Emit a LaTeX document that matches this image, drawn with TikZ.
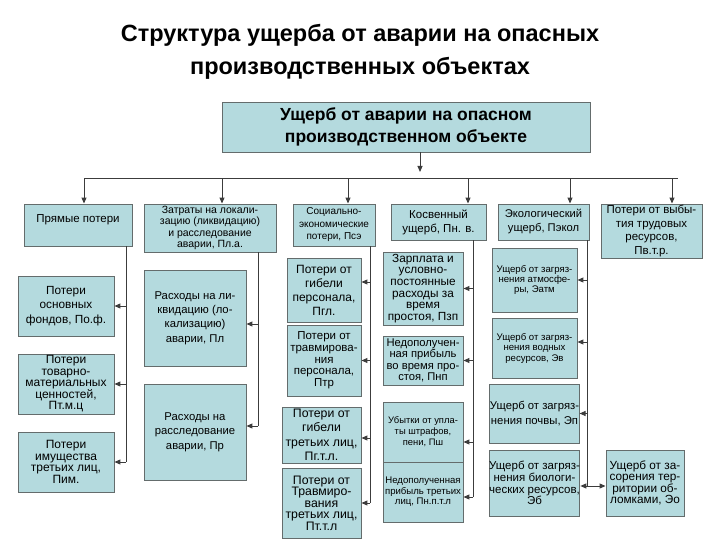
\documentclass[tikz,border=0pt]{standalone}
\usepackage{fontspec}
\setmainfont{Liberation Sans}
\usetikzlibrary{arrows.meta}
\definecolor{boxfill}{RGB}{180,218,222}
\definecolor{boxline}{RGB}{100,108,108}
\definecolor{lin}{RGB}{60,60,60}
\newcommand\fs[2]{\fontsize{#1}{#2}\selectfont}
\begin{document}
\begin{tikzpicture}[x=1pt,y=-1pt,
 box/.style={draw=boxline, fill=boxfill, line width=0.9pt, inner sep=0pt, align=center, font=\fs{11}{12}},
 sz/.style 2 args={minimum width=#1pt, minimum height=#2pt},
 arr/.style={draw=lin, line width=1pt, -{Triangle[length=6pt,width=5pt]}},
 ln/.style={draw=lin, line width=1pt}]
\useasboundingbox (0,0) rectangle (720,540);

\node[align=center, font=\fs{23.5}{33}\bfseries] (title) at (360,52) {Структура ущерба от аварии на опасных\\производственных объектах};

\node[box, sz={368}{50}, font=\fs{17.5}{22}\bfseries] (top) at (406,127) {Ущерб от аварии на опасном\\производственном объекте};

% row 1
\node[box, sz={108}{42}, font=\fs{11.5}{12}] (p1) at (78,225) {Прямые потери\\\mbox{}};
\node[box, sz={132}{48}, font=\fs{10.5}{11.5}] (p2) at (210,228) {Затраты на локали-\\зацию (ликвидацию)\\и расследование\\аварии, Пл.а.};
\node[box, sz={82}{42}, font=\fs{10}{12.5}] (p3) at (334,225) {Социально-\\экономические\\потери, Псэ};
\node[box, sz={95}{36}, font=\fs{11.5}{14}] (p4) at (438.5,222) {Косвенный\\ущерб, Пн. в.};
\node[box, sz={91}{36}, font=\fs{11.2}{14}] (p5) at (543.5,222) {Экологический\\ущерб, Пэкол};
\node[box, sz={101}{54}, font=\fs{11.5}{13.5}] (p6) at (651.5,231) {Потери от выбы-\\тия трудовых\\ресурсов,\\Пв.т.р.};

% column 1
\node[box, sz={96}{60}, font=\fs{11.8}{14.5}] (a1) at (66,306) {Потери\\основных\\фондов, По.ф.};
\node[box, sz={96}{60}, font=\fs{12}{11.5}] (a2) at (66,384) {Потери\\товарно-\\материальных\\ценностей,\\Пт.м.ц};
\node[box, sz={96}{60}, font=\fs{12}{11.5}] (a3) at (66,462) {Потери\\имущества\\третьих лиц,\\Пим.};

% column 2
\node[box, sz={102}{96}, font=\fs{11.3}{14.3}] (b1) at (195,318) {Расходы на ли-\\квидацию (ло-\\кализацию)\\аварии, Пл};
\node[box, sz={102}{96}, font=\fs{11.3}{14.5}] (b2) at (195,432) {Расходы на\\расследование\\аварии, Пр};

% column 3
\node[box, sz={74}{64}, font=\fs{12}{14}] (c1) at (324,290) {Потери от\\гибели\\персонала,\\Пгл.};
\node[box, sz={74}{71}, font=\fs{11.5}{11.7}] (c2) at (324,360.5) {Потери от\\травмирова-\\ния\\персонала,\\Птр};
\node[box, sz={79}{56}, font=\fs{12.3}{14.5}] (c3) at (321.5,435) {Потери от\\гибели\\третьих лиц,\\Пг.т.л.};
\node[box, sz={79}{70}, font=\fs{12.3}{11.5}] (c4) at (321.5,503) {Потери от\\Травмиро-\\вания\\третьих лиц,\\Пт.т.л};

% column 4
\node[box, sz={80}{73}, font=\fs{11.8}{11.7}] (d1) at (423,288.5) {Зарплата и\\условно-\\постоянные\\расходы за\\время\\простоя, Пзп};
\node[box, sz={80}{49}, font=\fs{11.2}{11.5}] (d2) at (423,360.5) {Недополучен-\\ная прибыль\\во время про-\\стоя, Пнп};
\node[box, sz={80}{60}, font=\fs{9.4}{11}] (d3) at (423,432) {Убытки от упла-\\ты штрафов,\\пени, Пш};
\node[box, sz={80}{60}, font=\fs{9.6}{10.5}] (d4) at (423,492) {Недополученная\\прибыль третьих\\лиц, Пн.п.т.л};

% column 5
\node[box, sz={85}{64}, font=\fs{9.6}{10}] (e1) at (534.5,280) {Ущерб от загряз-\\нения атмосфе-\\ры, Эатм};
\node[box, sz={85}{60}, font=\fs{9.6}{10.5}] (e2) at (534.5,348) {Ущерб от загряз-\\нения водных\\ресурсов, Эв};
\node[box, sz={85}{59}, font=\fs{11.3}{15}] (e3) at (534.5,413.5) {Ущерб от загряз-\\нения почвы, Эп};
\node[box, sz={85}{66}, font=\fs{11.5}{11.7}] (e4) at (534.5,483) {Ущерб от загряз-\\нения биологи-\\ческих ресурсов,\\Эб};
\node[box, sz={78}{66}, font=\fs{11.8}{11.3}] (f) at (645,483) {Ущерб от за-\\сорения тер-\\ритории об-\\ломками, Эо};

% top connectors
\coordinate (ta) at (420,172);
\draw[arr] (ta |- top.south) -- (ta);
\coordinate (busL) at (84,179);
\coordinate (busR) at (678,179);
\draw[ln] (busL) -- (busR);
\foreach \x/\n in {84/p1,222/p2,348/p3,468/p4,570/p5,672/p6}{
  \coordinate (dk) at (\x,179);
  \draw[arr] (dk) -- (dk |- \n.north);
}

% trunk 1
\coordinate (t1) at (126,0);
\draw[ln] (t1 |- p1.south) -- (t1 |- a3.east);
\foreach \n in {a1,a2,a3} \draw[arr] (t1 |- \n.east) -- (\n.east);

% trunk 2
\coordinate (t2) at (258,0);
\coordinate (b1e) at ([yshift=-6pt]b1.east);
\coordinate (b2e) at ([yshift=6pt]b2.east);
\draw[ln] (t2 |- p2.south) -- (t2 |- b2e);
\foreach \n in {b1e,b2e} \draw[arr] (t2 |- \n) -- (\n);

% trunk 3
\coordinate (t3) at (370,0);
\coordinate (c1e) at ([yshift=8pt]c1.east);
\coordinate (c2e) at (c2.east);
\coordinate (c3e) at ([yshift=-3pt]c3.east);
\coordinate (c4e) at (c4.east);
\draw[ln] (t3 |- p3.south) -- (t3 |- c4e);
\foreach \n in {c1e,c2e,c3e,c4e} \draw[arr] (t3 |- \n) -- (\n);

% trunk 4
\coordinate (t4) at (473,0);
\coordinate (d1e) at (d1.east);
\coordinate (d2e) at (d2.east);
\coordinate (d3e) at ([yshift=-10pt]d3.east);
\coordinate (d4e) at ([yshift=-5pt]d4.east);
\draw[ln] (t4 |- p4.south) -- (t4 |- d4e);
\foreach \n in {d1e,d2e,d3e,d4e} \draw[arr] (t4 |- \n) -- (\n);

% trunk 5
\coordinate (t5) at (587,0);
\coordinate (e1e) at (e1.east);
\coordinate (e2e) at ([yshift=6pt]e2.east);
\coordinate (e3e) at (e3.east);
\coordinate (e4e) at ([yshift=-3pt]e4.east);
\draw[ln] (t5 |- p5.south) -- (t5 |- e4e);
\foreach \n in {e1e,e2e,e3e,e4e} \draw[arr] (t5 |- \n) -- (\n);
\coordinate (fw) at ([yshift=-3pt]f.west);
\draw[arr] (t5 |- fw) -- (fw);
\end{tikzpicture}
\end{document}
